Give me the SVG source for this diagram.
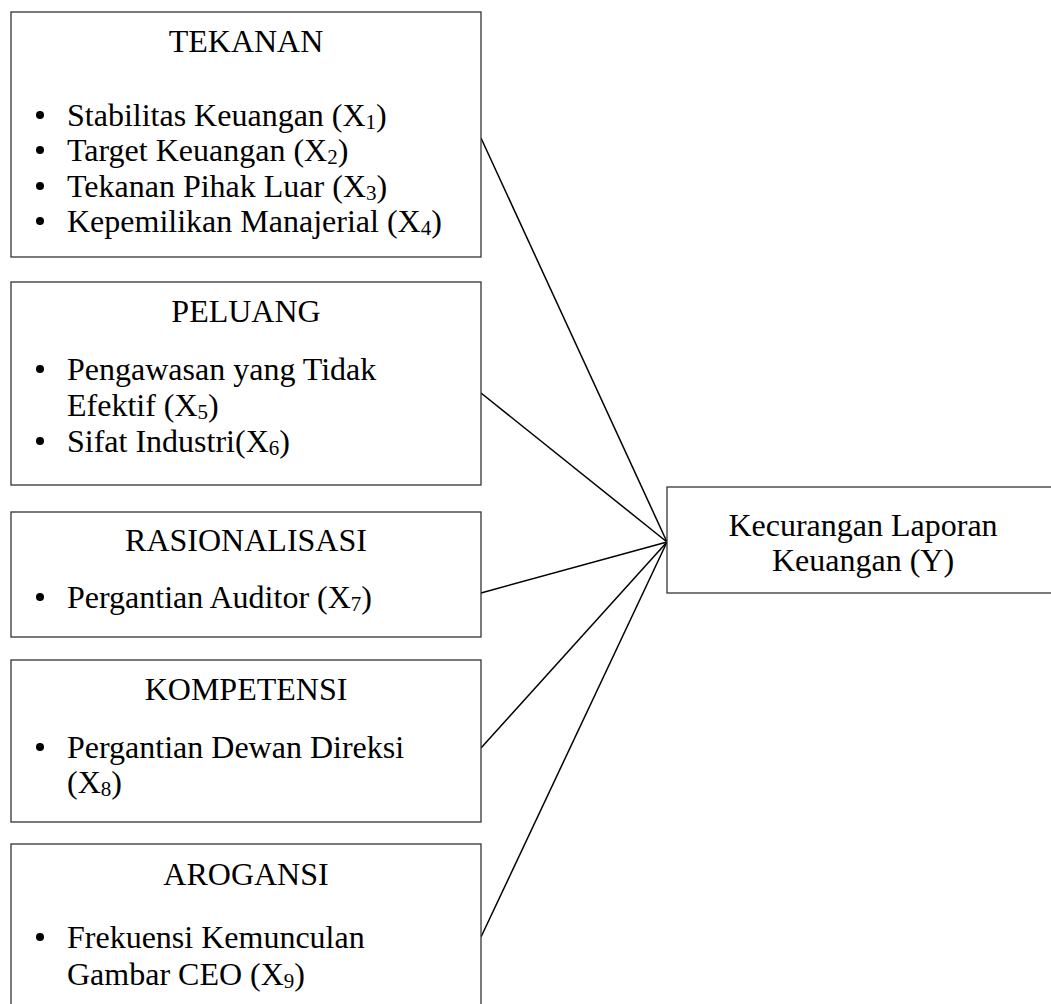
<svg xmlns="http://www.w3.org/2000/svg" width="1051" height="1004" viewBox="0 0 1051 1004">
<style>
.box{fill:#fff;stroke:#333;stroke-width:1.3}
.t{font-family:"Liberation Serif","Times New Roman",serif;font-size:32px;fill:#000}
.c{text-anchor:middle}
.sub{font-size:21px}
.dot{fill:#000}
.conn line{stroke:#000;stroke-width:1.5}
</style>
<rect width="1051" height="1004" fill="#fff"/>
<g class="conn" id="connectors">
<line x1="481" y1="138" x2="667" y2="542"/>
<line x1="481" y1="393" x2="667" y2="542"/>
<line x1="481" y1="593" x2="667" y2="542"/>
<line x1="481" y1="748" x2="667" y2="542"/>
<line x1="481" y1="937" x2="667" y2="542"/>
</g>
<g id="tekanan">
<rect class="box" x="11" y="12" width="470" height="245"/>
<text class="t c" x="246" y="52">TEKANAN</text>
<circle class="dot" cx="40" cy="115" r="4"/>
<circle class="dot" cx="40" cy="150" r="4"/>
<circle class="dot" cx="40" cy="186" r="4"/>
<circle class="dot" cx="40" cy="221" r="4"/>
<text class="t" x="67" y="126">Stabilitas Keuangan (X<tspan class="sub" dy="3">1</tspan><tspan dy="-3">)</tspan></text>
<text class="t" x="67" y="161">Target Keuangan (X<tspan class="sub" dy="3">2</tspan><tspan dy="-3">)</tspan></text>
<text class="t" x="67" y="197">Tekanan Pihak Luar (X<tspan class="sub" dy="3">3</tspan><tspan dy="-3">)</tspan></text>
<text class="t" x="67" y="232">Kepemilikan Manajerial (X<tspan class="sub" dy="3">4</tspan><tspan dy="-3">)</tspan></text>
</g>
<g id="peluang">
<rect class="box" x="11" y="282" width="470" height="203"/>
<text class="t c" x="246" y="322">PELUANG</text>
<circle class="dot" cx="40" cy="369" r="4"/>
<circle class="dot" cx="40" cy="441" r="4"/>
<text class="t" x="67" y="380">Pengawasan yang Tidak</text>
<text class="t" x="67" y="416">Efektif (X<tspan class="sub" dy="3">5</tspan><tspan dy="-3">)</tspan></text>
<text class="t" x="67" y="452">Sifat Industri(X<tspan class="sub" dy="3">6</tspan><tspan dy="-3">)</tspan></text>
</g>
<g id="rasionalisasi">
<rect class="box" x="11" y="512" width="470" height="125"/>
<text class="t c" x="246" y="551">RASIONALISASI</text>
<circle class="dot" cx="40" cy="597" r="4"/>
<text class="t" x="67" y="608">Pergantian Auditor (X<tspan class="sub" dy="3">7</tspan><tspan dy="-3">)</tspan></text>
</g>
<g id="kompetensi">
<rect class="box" x="11" y="660" width="470" height="162"/>
<text class="t c" x="246" y="700">KOMPETENSI</text>
<circle class="dot" cx="40" cy="747" r="4"/>
<text class="t" x="67" y="758">Pergantian Dewan Direksi</text>
<text class="t" x="67" y="793">(X<tspan class="sub" dy="3">8</tspan><tspan dy="-3">)</tspan></text>
</g>
<g id="arogansi">
<rect class="box" x="11" y="844" width="470" height="170"/>
<text class="t c" x="246" y="885">AROGANSI</text>
<circle class="dot" cx="40" cy="937" r="4"/>
<text class="t" x="67" y="948">Frekuensi Kemunculan</text>
<text class="t" x="67" y="985">Gambar CEO (X<tspan class="sub" dy="3">9</tspan><tspan dy="-3">)</tspan></text>
</g>
<g id="kecurangan">
<rect class="box" x="667" y="487" width="400" height="106"/>
<text class="t c" x="863" y="536">Kecurangan Laporan</text>
<text class="t c" x="863" y="571">Keuangan (Y)</text>
</g>
</svg>
